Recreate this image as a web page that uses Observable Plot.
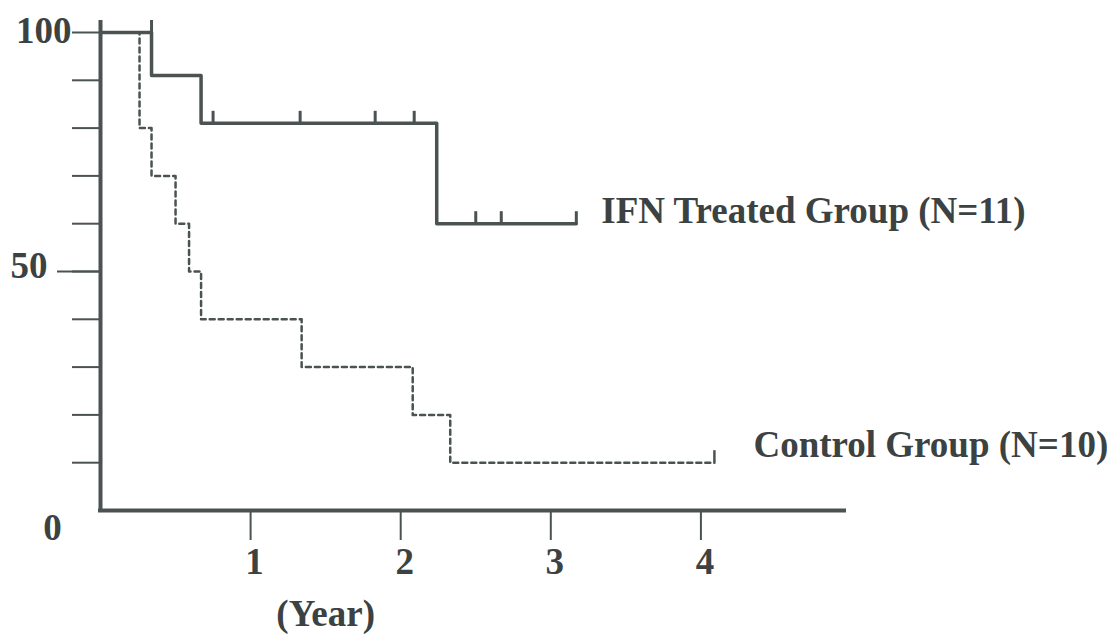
<!DOCTYPE html>
<html>
<head>
<meta charset="utf-8">
<script src="https://cdn.jsdelivr.net/npm/d3@7"></script>
<script src="https://cdn.jsdelivr.net/npm/@observablehq/plot@0.6"></script>
<style>
  html, body { margin: 0; padding: 0; background: #fff; overflow: hidden; }
  #chart svg { display: block; }
</style>
</head>
<body>
<div id="chart"></div>
<script>
// Kaplan–Meier survival steps: [year, percent surviving]
const ifnTimes = [0, 0.34, 0.67, 2.24, 3.17];
const ifnSurvival = [100, 91, 81, 60, 60];
// censored cases (tick marks) for the IFN group
const ifnCensorTimes = [0.34, 0.75, 1.33, 1.83, 2.09, 2.50, 2.67, 3.17];
const ifnCensorSurvival = [100, 81, 81, 81, 81, 60, 60, 60];

const controlTimes = [0, 0.26, 0.34, 0.50, 0.59, 0.67, 1.34, 2.08, 2.33, 4.09];
const controlSurvival = [100, 80, 70, 60, 50, 40, 30, 20, 10, 10];
const controlCensorTimes = [4.09];
const controlCensorSurvival = [10];

const groupLabels = ["IFN Treated Group (N=11)", "Control Group (N=10)"];
const xTicks = [1, 2, 3, 4];
const xTitle = "(Year)";
const xMax = 4.97;
const yTicks = [10, 20, 30, 40, 50, 60, 70, 80, 90, 100];
const yMajorTicks = [50];
const yTopLabel = [100];
const yMidLabel = [50];
const yZeroLabel = [0];

const toRows = (ts, ss) => ts.map((t, i) => ({t, s: ss[i]}));
const ifn = toRows(ifnTimes, ifnSurvival);
const ifnCensor = toRows(ifnCensorTimes, ifnCensorSurvival);
const control = toRows(controlTimes, controlSurvival);
const controlCensor = toRows(controlCensorTimes, controlCensorSurvival);

const ink = "#4b5252";
const font = {
  fontFamily: "'Liberation Serif', 'Times New Roman', serif",
  fontWeight: "bold",
  fontSize: 37,
  fill: "#3c4242"
};

const chart = Plot.plot({
  width: 1113,
  height: 634,
  marginTop: 32,
  marginBottom: 124,
  marginLeft: 100,
  marginRight: 267,
  x: {domain: [0, xMax], axis: null},
  y: {domain: [0, 100], axis: null},
  style: {background: "#fff"},
  marks: [
    // y-axis tick marks, pointing left
    Plot.ruleY(yTicks, {x1: 0, x2: 0, insetLeft: -28, stroke: ink, strokeWidth: 2}),
    Plot.ruleY(yMajorTicks, {x1: 0, x2: 0, insetLeft: -43, stroke: ink, strokeWidth: 2}),
    // x-axis tick marks, pointing down
    Plot.ruleX(xTicks, {y1: 0, y2: 0, insetBottom: -30, stroke: ink, strokeWidth: 2}),
    // axis lines
    Plot.ruleX([0], {insetTop: -12, insetBottom: -2, stroke: ink, strokeWidth: 4}),
    Plot.ruleY([0], {insetLeft: -2, stroke: ink, strokeWidth: 4}),

    // control group: dotted step curve
    Plot.line(control, {x: "t", y: "s", curve: "step-after", stroke: ink, strokeWidth: 2.5, strokeDasharray: "5,4"}),
    Plot.ruleX(controlCensor, {x: "t", y1: "s", y2: "s", insetTop: -12, stroke: ink, strokeWidth: 2.5}),

    // IFN treated group: solid step curve
    Plot.line(ifn, {x: "t", y: "s", curve: "step-after", stroke: ink, strokeWidth: 3.5}),
    Plot.ruleX(ifnCensor, {x: "t", y1: "s", y2: "s", insetTop: -12, stroke: ink, strokeWidth: 3}),

    // group labels at the end of each curve
    Plot.text([groupLabels[0]], {x: ifnTimes.at(-1), y: ifnSurvival.at(-1), dx: 25, dy: -1, textAnchor: "start", lineAnchor: "bottom", ...font}),
    Plot.text([groupLabels[1]], {x: controlTimes.at(-1), y: controlSurvival.at(-1), dx: 39, dy: -6, textAnchor: "start", lineAnchor: "bottom", ...font}),

    // y-axis labels
    Plot.text(yTopLabel, {x: 0, y: d => d, text: d => String(d), dx: -29, dy: -1, textAnchor: "end", lineAnchor: "middle", ...font}),
    Plot.text(yMidLabel, {x: 0, y: d => d, text: d => String(d), dx: -53, dy: -5, textAnchor: "end", lineAnchor: "middle", ...font}),
    Plot.text(yZeroLabel, {x: 0, y: d => d, text: d => String(d), dx: -48, dy: 18, textAnchor: "middle", lineAnchor: "middle", ...font}),

    // x-axis labels and title
    Plot.text(xTicks, {x: d => d, y: 0, text: d => String(d), dx: 4, dy: 63, textAnchor: "middle", lineAnchor: "bottom", ...font}),
    Plot.text([xTitle], {x: 1.5, y: 0, dy: 115, textAnchor: "middle", lineAnchor: "bottom", ...font})
  ]
});

document.getElementById("chart").appendChild(chart);
</script>
</body>
</html>
